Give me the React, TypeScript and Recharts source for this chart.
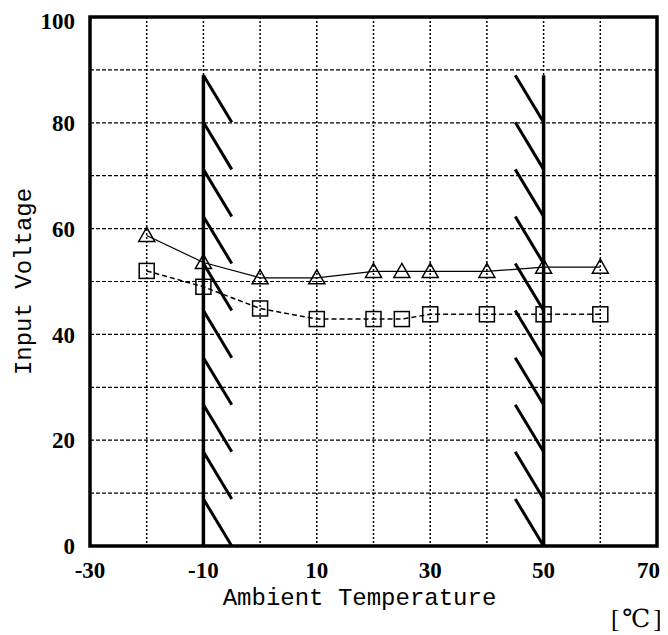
import {
  LineChart, Line, XAxis, YAxis, CartesianGrid, ReferenceLine, ReferenceArea,
} from 'recharts';

const temps = [-20, -10, 0, 10, 20, 25, 30, 40, 50, 60];
const triangleVolts = [58.7, 53.6, 50.7, 50.7, 51.9, 51.9, 51.9, 51.9, 52.7, 52.7];
const squareVolts = [52.0, 49.0, 44.9, 42.9, 42.9, 42.9, 43.8, 43.8, 43.8, 43.8];

const xTicks = [-30, -20, -10, 0, 10, 20, 30, 40, 50, 60, 70];
const yTicks = [0, 10, 20, 30, 40, 50, 60, 70, 80, 90, 100];

// limits of the hatched bands
const limitTemps = [-10, 50];
const hatchLevels = [89, 80.1, 71.2, 62.3, 53.4, 44.5, 35.6, 26.7, 17.8, 8.9, 0];

const data = temps.map((t, i) => ({ t, tri: triangleVolts[i], sq: squareVolts[i] }));

const SERIF = '"Liberation Serif", "Times New Roman", "DejaVu Serif", serif';
const MONO = '"Liberation Mono", "Courier New", "DejaVu Sans Mono", monospace';

const tickFont = {
  fontSize: 23, fill: '#000',
  style: { fontFamily: SERIF, fontWeight: 'bold' },
};
const titleFont = { fontFamily: MONO, fontSize: 24, fill: '#000' };

const XTick = (p: any) => {
  const { x, y, payload } = p;
  const v = payload.value;
  if ((v + 30) % 20 !== 0) return <g />;
  const last = v === xTicks[xTicks.length - 1];
  return (
    <text x={last ? x + 3 : x} y={y} dy="0.71em" textAnchor={last ? 'end' : 'middle'}
      fontSize={23} fontWeight="bold" fontFamily={SERIF} fill="#000">
      {v}
    </text>
  );
};

const TriangleDot = (p: any) => {
  const { cx, cy, index } = p;
  if (cx == null || cy == null) return <g key={index} />;
  return (
    <path
      key={index}
      d={`M${cx},${cy - 8} L${cx + 8},${cy + 6} L${cx - 8},${cy + 6} Z`}
      fill="none" stroke="#000" strokeWidth={1.5}
    />
  );
};

const SquareDot = (p: any) => {
  const { cx, cy, index } = p;
  if (cx == null || cy == null) return <g key={index} />;
  return (
    <rect key={index} x={cx - 7.5} y={cy - 7.5} width={15} height={15}
      fill="none" stroke="#000" strokeWidth={1.5} />
  );
};

export default function App() {
  return (
    <div style={{ position: 'relative', width: 660, height: 627 }}>
      <LineChart width={660} height={627} data={data}
        margin={{ top: 9, right: 11, bottom: 0, left: 0 }}>
        <CartesianGrid horizontal={false} stroke="#000" strokeWidth={1.5} strokeDasharray="2 2" />
        <CartesianGrid vertical={false} stroke="#000" strokeWidth={1.2} strokeDasharray="4 2" />
        <XAxis
          dataKey="t" type="number" domain={[-30, 70]} ticks={xTicks}
          tickLine={false} axisLine={false} height={89} tickMargin={10}
          tick={XTick}
          label={{ value: 'Ambient Temperature', position: 'insideBottom', offset: 30, dx: -14, style: titleFont }}
        />
        <YAxis
          type="number" domain={[0, 100]} ticks={yTicks}
          tickFormatter={(v) => (v % 20 === 0 ? String(v) : '')}
          tickLine={false} axisLine={false} width={82} tickMargin={9}
          tick={tickFont}
          label={{ value: 'Input Voltage', angle: -90, position: 'insideLeft', offset: 14, style: { ...titleFont, textAnchor: 'middle' } }}
        />
        {limitTemps.map((x) => (
          <ReferenceLine key={'l' + x} segment={[{ x, y: 0 }, { x, y: hatchLevels[0] }]}
            stroke="#000" strokeWidth={3.5} />
        ))}
        {hatchLevels.slice(0, -1).map((v, i) => (
          <ReferenceLine key={'a' + i}
            segment={[{ x: limitTemps[0], y: v }, { x: limitTemps[0] + 5, y: hatchLevels[i + 1] }]}
            stroke="#000" strokeWidth={3} />
        ))}
        {hatchLevels.slice(0, -1).map((v, i) => (
          <ReferenceLine key={'b' + i}
            segment={[{ x: limitTemps[1] - 5, y: v }, { x: limitTemps[1], y: hatchLevels[i + 1] }]}
            stroke="#000" strokeWidth={3} />
        ))}
        <ReferenceArea x1={-30} x2={70} y1={0} y2={100} fill="none" fillOpacity={0}
          stroke="#000" strokeWidth={3.5} />
        <Line dataKey="tri" stroke="#000" strokeWidth={1.2} dot={TriangleDot}
          isAnimationActive={false} />
        <Line dataKey="sq" stroke="#000" strokeWidth={1.5} strokeDasharray="5 3" dot={SquareDot}
          isAnimationActive={false} />
      </LineChart>
      <div style={{
        position: 'absolute', left: 603, top: 598, fontFamily: SERIF,
        fontSize: 25, lineHeight: '26px', letterSpacing: 3, whiteSpace: 'nowrap',
      }}>[℃]</div>
    </div>
  );
}
